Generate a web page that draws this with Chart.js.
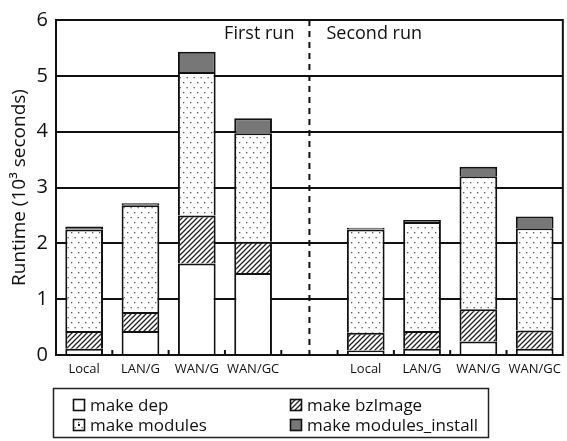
<!DOCTYPE html>
<html>
<head>
<meta charset="utf-8">
<script src="https://cdn.jsdelivr.net/npm/chart.js@4.4.1/dist/chart.umd.min.js"></script>
<style>
html,body{margin:0;padding:0;background:#fff;}
#wrap{width:567px;height:441px;}
</style>
</head>
<body>
<div id="wrap"><canvas id="c" width="567" height="441"></canvas></div>
<script>
// ---- data (units: 10^3 seconds) ----
const categories = ['Local','LAN/G','WAN/G','WAN/GC','','Local','LAN/G','WAN/G','WAN/GC'];
const makeDep            = [0.11, 0.43, 1.64, 1.47, null, 0.08, 0.11, 0.24, 0.11];
const makeBzImage        = [0.32, 0.34, 0.86, 0.56, null, 0.32, 0.32, 0.58, 0.33];
const makeModules        = [1.82, 1.91, 2.57, 1.94, null, 1.85, 1.95, 2.38, 1.83];
const makeModulesInstall = [0.05, 0.04, 0.36, 0.27, null, 0.03, 0.04, 0.17, 0.21];
const seriesLabels = ['make dep','make bzImage','make modules','make modules_install'];
const runLabels = ['First run','Second run'];
const yTicks = [0,1,2,3,4,5,6];

const FONT = '"Open Sans", "DejaVu Sans", sans-serif';
const INK = '#111';

function dotPattern(){
  const c=document.createElement('canvas'); c.width=7; c.height=10;
  const g=c.getContext('2d');
  g.fillStyle='#fff'; g.fillRect(0,0,7,10);
  g.fillStyle='#555';
  g.fillRect(1,2,1.3,1.3);
  g.fillRect(4.5,7,1.3,1.3);
  return g.createPattern(c,'repeat');
}
function hatchPattern(){
  const s=5;
  const c=document.createElement('canvas'); c.width=s; c.height=s;
  const g=c.getContext('2d');
  g.fillStyle='#fff'; g.fillRect(0,0,s,s);
  g.strokeStyle='#222'; g.lineWidth=1.3;
  g.beginPath();
  g.moveTo(-1,s+1); g.lineTo(s+1,-1);
  g.moveTo(-1,1); g.lineTo(1,-1);
  g.moveTo(s-1,s+1); g.lineTo(s+1,s-1);
  g.stroke();
  return g.createPattern(c,'repeat');
}
const fills = ['#ffffff', hatchPattern(), dotPattern(), '#777777'];

const extras = {
  id:'extras',
  beforeDatasetsDraw(chart){
    const a=chart.chartArea, ctx=chart.ctx;
    ctx.save();
    ctx.strokeStyle=INK; ctx.lineWidth=2;
    ctx.strokeRect(a.left, a.top, a.right-a.left, a.bottom-a.top);
    ctx.restore();
  },
  afterDatasetsDraw(chart){
    const a=chart.chartArea, ctx=chart.ctx, xs=chart.scales.x;
    ctx.save();
    // inner tick marks at category boundaries
    ctx.strokeStyle=INK; ctx.lineWidth=2;
    for(let i=1;i<categories.length;i++){
      const x=(xs.getPixelForValue(i-1)+xs.getPixelForValue(i))/2;
      ctx.beginPath(); ctx.moveTo(x,a.bottom); ctx.lineTo(x,a.bottom-5); ctx.stroke();
    }
    // dashed separator
    const xd = xs.getPixelForValue(4);
    ctx.setLineDash([6,5]);
    ctx.beginPath(); ctx.moveTo(xd,a.top); ctx.lineTo(xd,a.bottom); ctx.stroke();
    ctx.setLineDash([]);
    // run labels
    ctx.fillStyle=INK; ctx.font='18px '+FONT; ctx.textBaseline='middle';
    ctx.textAlign='right'; ctx.fillText(runLabels[0], xd-15, a.top+14);
    ctx.textAlign='left'; ctx.fillText(runLabels[1], xd+17, a.top+14);
    // legend
    ctx.lineWidth=1.5; ctx.strokeStyle='#222';
    ctx.strokeRect(53.5, 388.5, 435, 49);
    const pos=[[73,405],[290,405],[73,425],[290,425]];
    ctx.font='17px '+FONT; ctx.textAlign='left';
    chart.data.datasets.forEach((ds,i)=>{
      const [x,y]=pos[i];
      ctx.fillStyle=ds.backgroundColor;
      ctx.fillRect(x,y-6,12,12);
      if(i===2){ctx.fillStyle='#222'; ctx.fillRect(x+5,y-1,2,2);}
      ctx.strokeStyle=INK; ctx.lineWidth=1.6;
      ctx.strokeRect(x+0.5,y-5.5,11,11);
      ctx.fillStyle=INK;
      ctx.fillText(ds.label, x+17, y+1);
    });
    ctx.restore();
  }
};

const datasets = [makeDep, makeBzImage, makeModules, makeModulesInstall].map((d,i)=>({
  label: seriesLabels[i],
  data: d,
  backgroundColor: fills[i],
  borderColor: INK,
  borderWidth: 2,
  barPercentage: 0.67,
  categoryPercentage: 1.0
}));

new Chart(document.getElementById('c'), {
  type:'bar',
  data:{labels:categories, datasets},
  options:{
    responsive:false, animation:false, devicePixelRatio:1,
    layout:{padding:{top:15,right:2,left:0,bottom:0}},
    plugins:{legend:{display:false}, tooltip:{enabled:false}},
    scales:{
      x:{
        stacked:true,
        grid:{display:false, drawTicks:false},
        border:{color:INK, width:2},
        ticks:{color:INK, font:{family:FONT,size:13}, padding:6, maxRotation:0, autoSkip:false},
        afterFit(s){ s.height = 86; }
      },
      y:{
        stacked:true, min:0, max:6,
        afterBuildTicks(s){ s.ticks = yTicks.map(v=>({value:v})); },
        grid:{color:INK, lineWidth:2, drawTicks:false},
        border:{color:INK, width:2},
        ticks:{color:INK, font:{family:FONT,size:20}, padding:8},
        title:{display:true, text:'Runtime (10³ seconds)', color:INK, font:{family:FONT,size:19}, padding:{top:8,bottom:0}},
        afterFit(s){ s.width = 56; }
      }
    }
  },
  plugins:[extras]
});
</script>
</body>
</html>
